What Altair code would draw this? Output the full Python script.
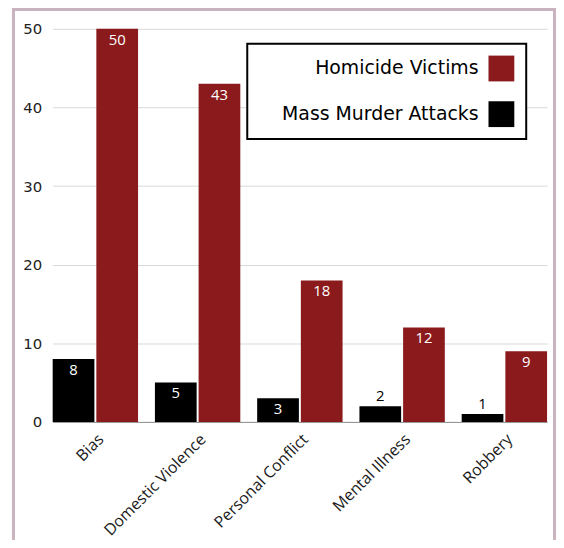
import altair as alt
import pandas as pd

categories = ["Bias", "Domestic Violence", "Personal Conflict", "Mental Illness", "Robbery"]
attacks = [8, 5, 3, 2, 1]
victims = [50, 43, 18, 12, 9]
bar_order = ["Mass Murder Attacks", "Homicide Victims"]
legend_order = ["Homicide Victims", "Mass Murder Attacks"]
legend_colors = ["#8B1A1D", "#000000"]
y_ticks = [0, 10, 20, 30, 40, 50]

rows = []
for c, a, v in zip(categories, attacks, victims):
    rows.append({"cause": c, "series": "Mass Murder Attacks", "value": a})
    rows.append({"cause": c, "series": "Homicide Victims", "value": v})
df = pd.DataFrame(rows)

W, H = 498, 396

x = alt.X(
    "cause:N", sort=categories, title=None,
    scale=alt.Scale(paddingInner=0.165, paddingOuter=0),
    axis=alt.Axis(labelAngle=-45, labelFont="Open Sans", labelFontSize=16,
                  labelColor="#1a1a1a", labelPadding=9, ticks=False,
                  domainColor="#8f8f8f", domainWidth=1),
)
xoff = alt.XOffset("series:N", sort=bar_order,
                   scale=alt.Scale(paddingInner=0.045, paddingOuter=0))
y = alt.Y(
    "value:Q", title=None,
    scale=alt.Scale(domain=[0, 50], nice=False),
    axis=alt.Axis(values=y_ticks, grid=True, gridColor="#d9d9d9", domain=False,
                  ticks=False, labelFont="DejaVu Sans", labelFontSize=15,
                  labelColor="#222222", labelPadding=11),
)
color = alt.Color(
    "series:N",
    scale=alt.Scale(domain=legend_order, range=legend_colors),
    legend=alt.Legend(
        title=None, orient="none", legendX=196, legendY=15,
        symbolType="square", symbolSize=676, symbolStrokeWidth=0,
        symbolOffset=231, labelOffset={"expr": "-36"}, labelAlign="right",
        labelFont="DejaVu Sans", labelFontSize=19, labelColor="#000000",
        labelLimit=400, padding=12, rowPadding=20,
        strokeColor="#000000", fillColor="#ffffff",
    ),
)

base = alt.Chart(df).encode(x=x, xOffset=xoff, y=y)
bars = base.mark_bar().encode(color=color)
inside = base.transform_filter("datum.value >= 3").mark_text(
    baseline="middle", dy=11, color="#ffffff", font="Open Sans", fontSize=15
).encode(text="value:Q")
above = base.transform_filter("datum.value < 3").mark_text(
    baseline="middle", dy=-10, color="#000000", font="Open Sans", fontSize=15
).encode(text="value:Q")

frame = alt.Chart(pd.DataFrame({"f": [0]})).mark_rect(
    fill="transparent", stroke="#c9b3bf", strokeWidth=3
).encode(
    x=alt.value(-39.5), x2=alt.value(505.5), y=alt.value(-19.5), y2=alt.value(700)
)

chart = alt.layer(frame, bars, inside, above).properties(
    width=W, height=H,
    autosize=alt.AutoSizeParams(type="none"),
    padding={"left": 45, "top": 19, "right": 9, "bottom": 117},
).configure_view(stroke="transparent").configure_legend(strokeWidth=2)

chart.save("out.html", embed_options={"renderer": "svg", "actions": False})
